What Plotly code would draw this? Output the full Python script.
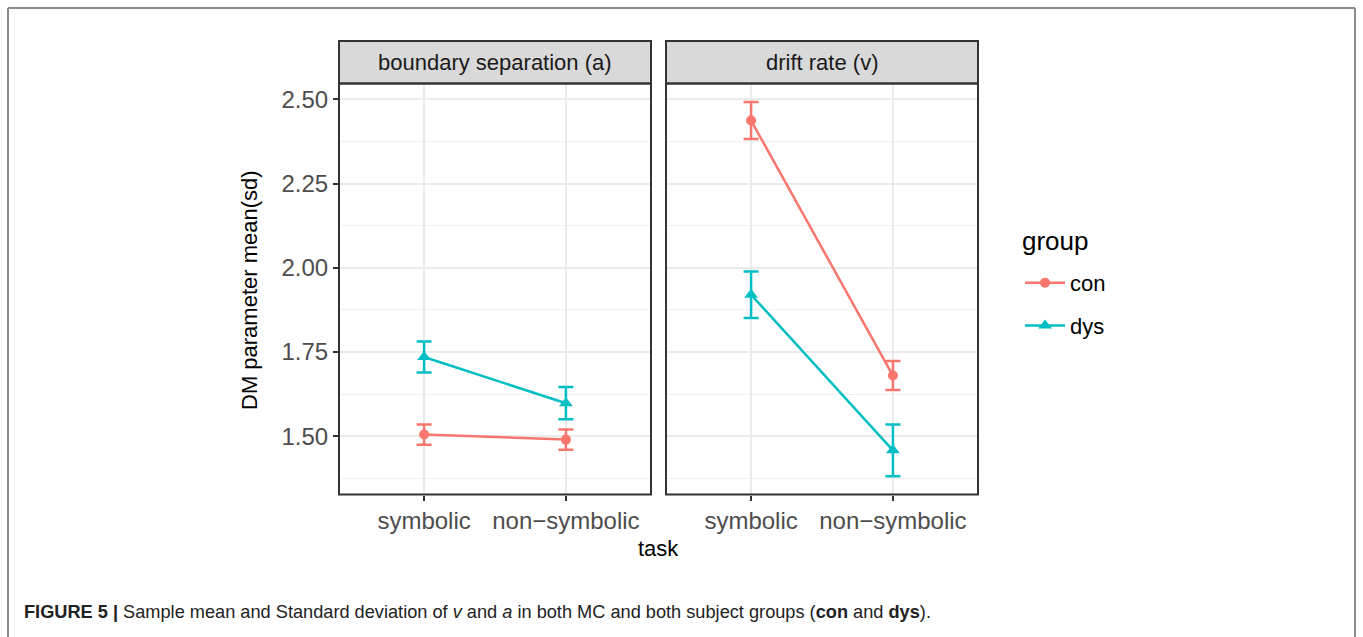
import plotly.graph_objects as go

W, H = 1363, 637

tasks = ["symbolic", "non\u2212symbolic"]
groups = ["con", "dys"]
colors = {"con": "#F8766D", "dys": "#00BFC4"}
symbols = {"con": "circle", "dys": "triangle-up"}

# boundary separation (a)
a_mean = {"con": [1.505, 1.490], "dys": [1.735, 1.598]}
a_err = {"con": [0.030, 0.030], "dys": [0.046, 0.048]}
# drift rate (v)
v_mean = {"con": [2.437, 1.680], "dys": [1.920, 1.458]}
v_err = {"con": [0.055, 0.043], "dys": [0.069, 0.077]}

panel_titles = ["boundary separation (a)", "drift rate (v)"]
y_ticks = [1.50, 1.75, 2.00, 2.25, 2.50]
y_range = [1.327, 2.547]

FONT = "Liberation Sans, Arial, Helvetica"

def px(x):
    return x / W

def py(y):
    return 1 - y / H

# layout geometry (pixels)
P1 = (339, 651)
P2 = (666, 978)
PT, PB = 83.5, 494.5
ST = 41

fig = go.Figure()

panels = [(a_mean, a_err, "x", "y"), (v_mean, v_err, "x2", "y2")]
for i, (m, e, xa, ya) in enumerate(panels):
    for g in groups:
        fig.add_trace(go.Scatter(
            x=tasks, y=m[g], xaxis=xa, yaxis=ya,
            mode="lines+markers", name=g, legendgroup=g,
            showlegend=(i == 1),
            line=dict(color=colors[g], width=2.5),
            marker=dict(color=colors[g], symbol=symbols[g], size=12 if g == "dys" else 10),
            error_y=dict(type="data", array=e[g], visible=True, color=colors[g],
                         thickness=2.5, width=7.5),
        ))

axis_common = dict(
    type="category", categoryorder="array", categoryarray=tasks,
    range=[-0.6, 1.6], showgrid=True, gridcolor="#EBEBEB", gridwidth=2,
    ticks="outside", ticklen=5, tickwidth=2, tickcolor="#333333",
    tickfont=dict(family=FONT, size=24, color="#4D4D4D"),
    showline=False, zeroline=False, fixedrange=True,
)
fig.update_layout(
    xaxis=dict(domain=[px(P1[0]), px(P1[1])], anchor="y", **axis_common),
    xaxis2=dict(domain=[px(P2[0]), px(P2[1])], anchor="y2", **axis_common),
)
yaxis_common = dict(
    range=y_range, tickvals=y_ticks, tickformat=".2f",
    showgrid=True, gridcolor="#EBEBEB", gridwidth=2,
    minor=dict(dtick=0.25, tick0=1.375, showgrid=True, gridcolor="#F0F0F0", gridwidth=1.3),
    zeroline=False, showline=False, fixedrange=True,
    domain=[py(PB), py(PT)],
)
fig.update_layout(
    yaxis=dict(anchor="x", ticks="outside", ticklen=5, tickwidth=2, tickcolor="#333333",
               tickfont=dict(family=FONT, size=24, color="#4D4D4D"),
               **yaxis_common),
    yaxis2=dict(anchor="x2", matches="y", showticklabels=False, ticks="", **yaxis_common),
)

shapes = []
for (x0, x1), title in zip([P1, P2], panel_titles):
    # strip
    shapes.append(dict(type="rect", xref="paper", yref="paper",
                       x0=px(x0), x1=px(x1), y0=py(PT), y1=py(ST),
                       fillcolor="#D9D9D9", line=dict(color="#333333", width=2), layer="above"))
    # panel border
    shapes.append(dict(type="rect", xref="paper", yref="paper",
                       x0=px(x0), x1=px(x1), y0=py(PB), y1=py(PT),
                       fillcolor="rgba(0,0,0,0)", line=dict(color="#333333", width=2), layer="above"))
# outer frame (left, top, right)
fc = dict(color="#8A8A8A", width=2)
shapes.append(dict(type="line", xref="paper", yref="paper", x0=px(8), x1=px(8), y0=py(8), y1=-0.05, line=fc))
shapes.append(dict(type="line", xref="paper", yref="paper", x0=px(8), x1=px(1355), y0=py(8), y1=py(8), line=fc))
shapes.append(dict(type="line", xref="paper", yref="paper", x0=px(1355), x1=px(1355), y0=py(8), y1=-0.05, line=fc))

annotations = []
for (x0, x1), title in zip([P1, P2], panel_titles):
    annotations.append(dict(text=title, xref="paper", yref="paper",
                            x=px((x0 + x1) / 2), y=py((ST + PT) / 2),
                            showarrow=False, xanchor="center", yanchor="middle",
                            font=dict(family=FONT, size=22, color="#1A1A1A")))
annotations.append(dict(text="DM parameter mean(sd)", xref="paper", yref="paper",
                        x=px(249), y=py(290), textangle=-90, showarrow=False,
                        xanchor="center", yanchor="middle",
                        font=dict(family=FONT, size=22, color="#000000")))
annotations.append(dict(text="task", xref="paper", yref="paper",
                        x=px(658), y=py(548), showarrow=False,
                        xanchor="center", yanchor="middle",
                        font=dict(family=FONT, size=22, color="#000000")))
# legend title
annotations.append(dict(text="group", xref="paper", yref="paper",
                        x=px(1020), y=py(241), showarrow=False,
                        xanchor="left", yanchor="middle",
                        font=dict(family=FONT, size=26, color="#000000")))
annotations.append(dict(
    text="<b>FIGURE 5 |</b> Sample mean and Standard deviation of <i>v</i> and <i>a</i> in both MC and both subject groups (<b>con</b> and <b>dys</b>).",
    xref="paper", yref="paper", x=px(22), y=py(612), showarrow=False,
    xanchor="left", yanchor="middle",
    font=dict(family=FONT, size=18.2, color="#222222")))

fig.update_layout(
    width=W, height=H, margin=dict(l=0, r=0, t=0, b=0),
    paper_bgcolor="white", plot_bgcolor="white",
    shapes=shapes, annotations=annotations,
    showlegend=True,
    legend=dict(
        x=px(1020), y=py(262), xanchor="left", yanchor="top",
        font=dict(family=FONT, size=22, color="#000000"),
        tracegroupgap=11, itemwidth=40, bgcolor="rgba(0,0,0,0)",
    ),
)

fig.write_html("out.html")
